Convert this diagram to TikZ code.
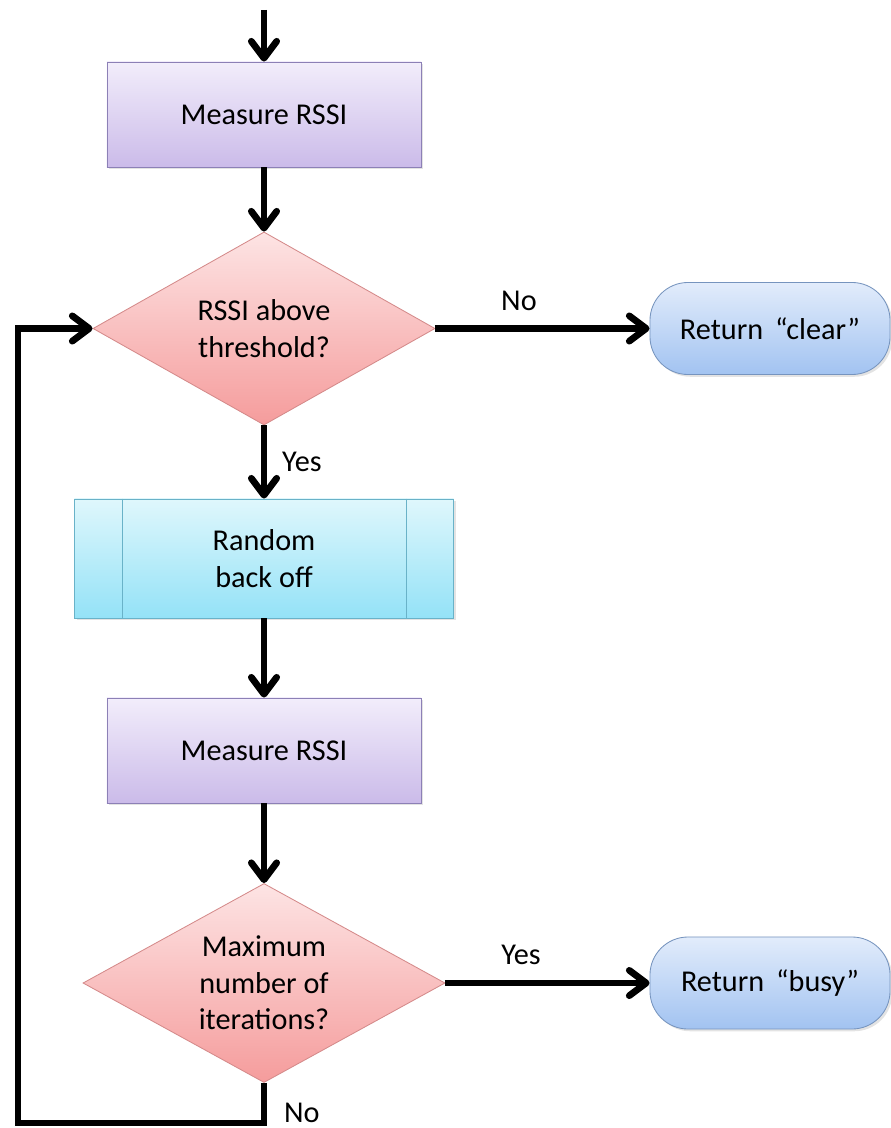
\documentclass[tikz,border=0pt]{standalone}
\usepackage{fontspec}
\setmainfont{Carlito}
\usetikzlibrary{arrows.meta,positioning,shapes.geometric,shadows,calc}

\definecolor{procTop}{RGB}{242,237,251}
\definecolor{procBot}{RGB}{203,187,233}
\definecolor{procLine}{RGB}{140,128,182}
\definecolor{decTop}{RGB}{253,228,228}
\definecolor{decBot}{RGB}{245,156,156}
\definecolor{decLine}{RGB}{212,138,138}
\definecolor{subTop}{RGB}{223,247,252}
\definecolor{subBot}{RGB}{148,226,247}
\definecolor{subLine}{RGB}{105,178,200}
\definecolor{termTop}{RGB}{226,236,251}
\definecolor{termBot}{RGB}{162,195,241}
\definecolor{termLine}{RGB}{118,148,190}

\tikzset{
  shade/.style={drop shadow={opacity=0.22,shadow xshift=1.6pt,shadow yshift=-1.6pt}},
  procbox/.style={rectangle,draw=procLine,line width=0.6pt,top color=procTop,bottom color=procBot,
    minimum width=7.85cm,minimum height=2.625cm,inner sep=0pt,align=center,shade},
  subbox/.style={rectangle,draw=subLine,line width=0.6pt,top color=subTop,bottom color=subBot,
    minimum width=9.475cm,minimum height=2.975cm,inner sep=0pt,align=center,shade},
  decbox/.style={diamond,draw=decLine,line width=0.6pt,top color=decTop,bottom color=decBot,
    inner sep=0pt,align=center},
  termbox/.style={rectangle,rounded corners=0.95cm,draw=termLine,line width=0.6pt,
    top color=termTop,bottom color=termBot,minimum width=6cm,minimum height=2.3cm,
    inner sep=0pt,align=center,shade},
  flow/.style={black,line width=4.8pt,-{Straight Barb[length=12pt,width=18pt,round]}},
  lbl/.style={inner sep=2pt},
}

\begin{document}
\begin{tikzpicture}[x=0.025cm,y=-0.025cm,every node/.style={font=\fontsize{21.5}{26}\selectfont}]
\useasboundingbox (0,0) rectangle (891,1128);
% ==========================================
\coordinate (start) at (264,10);
\node (meas1) at (264,114.5) [procbox] {Measure RSSI};
\node (dec1) at (264,328.5) [decbox,minimum width=8.55cm,minimum height=4.825cm,aspect=1.77] {RSSI above\\threshold?};
\node (clear) at (770,328.5) [termbox] {Return \,“clear”};
%
\node (backoff) at (264,558.5) [subbox] {Random\\back off};
\draw[subLine,line width=0.6pt] ($(backoff.north west)+(48,0)$) -- ($(backoff.south west)+(48,0)$);
\draw[subLine,line width=0.6pt] ($(backoff.north east)+(-48,0)$) -- ($(backoff.south east)+(-48,0)$);
%
\node (meas2) at (264,750.5) [procbox] {Measure RSSI};
\node (dec2) at (264,983) [decbox,minimum width=9.05cm,minimum height=4.975cm,aspect=1.82] {Maximum\\number of\\iterations?};
\node (busy) at (770,983) [termbox] {Return \,“busy”};
\coordinate (loop) at (18,1123);
% ==========================================
\draw[flow] (start) -- (meas1.north);
\draw[flow] (meas1.south) -- (dec1.north);
\draw[flow] (dec1.east) -- node[lbl,above=0.3cm,pos=0.39] {No} (clear.west);
\draw[flow] (dec1.south) -- node[lbl,right=0.3cm] {Yes} (backoff.north);
\draw[flow] (backoff.south) -- (meas2.north);
\draw[flow] (meas2.south) -- (dec2.north);
\draw[flow] (dec2.east) -- node[lbl,above=0.3cm,pos=0.37] {Yes} (busy.west);
%
\draw[flow] (dec2.south) -- node[lbl,right=0.35cm,pos=0.75] {No} (dec2.south |- loop)
  -- (loop) |- (dec1.west);
% =============================================
\end{tikzpicture}
\end{document}
